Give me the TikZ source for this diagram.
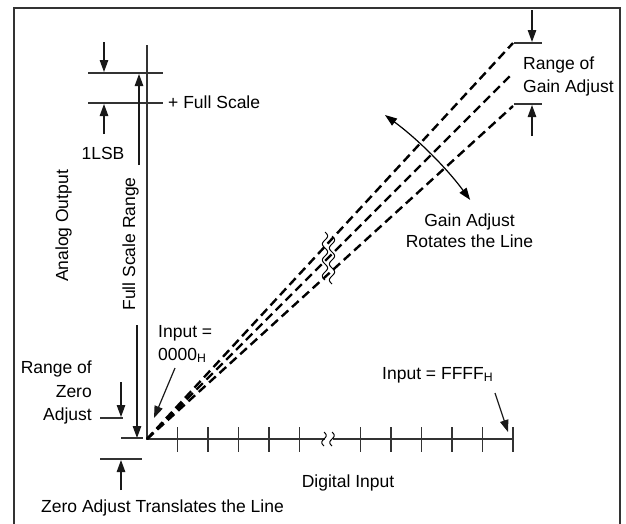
\documentclass[tikz,border=0pt]{standalone}
\usepackage{fontspec}
\setmainfont{Liberation Sans}
\usetikzlibrary{arrows.meta}

\begin{document}
\begin{tikzpicture}[x=1pt,y=1pt,
	lbl/.style={font=\fontsize{17.5}{23}\selectfont, inner sep=0pt},
	thin/.style={line width=1.2pt, black!80},
	arr/.style={line width=1.2pt, black!90, -{Triangle[length=12pt,width=8.5pt]}},
	gainline/.style={line width=2.4pt, dash pattern=on 9pt off 5pt}]
	\useasboundingbox (0,0) rectangle (626,-523);
	\draw [line width=2.5pt, black!80] (14,-8) rectangle (620,-560);
	
	% axes
	\coordinate (O) at (147,-439); \coordinate (ytop) at (147,-45);
	\coordinate (xbrk) at (325,-439); \coordinate (xres) at (333,-439);
	\coordinate (xend) at (513,-439);
	\draw [thin] (ytop) -- (O) -- (xbrk); \draw [thin] (xres) -- (xend);
	\foreach \k in {1,2,3,4,5,7,8,9,10,11,12}
		\draw [thin] (147+30.5*\k,-427) -- (147+30.5*\k,-452);
	\draw [line width=1pt] plot[domain=0:14, samples=30, smooth] ({324+2.2*sin(\x*25.7)},{-432-\x});
	\draw [line width=1pt] plot[domain=0:14, samples=30, smooth] ({332+2.2*sin(\x*25.7)},{-432-\x});
	\node [lbl, anchor=base] (din) at (348,-487) {Digital Input};
	\node [lbl, rotate=90, anchor=base] (aout) at (68,-226) {Analog Output};
	
	% full scale and 1LSB
	\coordinate (fs1) at (88,-73); \coordinate (fs2) at (163,-73);
	\coordinate (fs3) at (88,-103); \coordinate (fs4) at (163,-103);
	\draw [thin] (fs1) -- (fs2); \draw [thin] (fs3) -- (fs4);
	\draw [arr] (104,-42) -- (104,-72);
	\draw [arr] (104,-134) -- (104,-104);
	\node [lbl, anchor=base west] (fsl) at (168,-108) {+ Full Scale};
	\node [lbl, anchor=base] (lsb) at (103,-159) {1LSB};
	\draw [arr] (139,-165) -- (139,-74);
	\draw [arr] (137,-325) -- (137,-438);
	\node [lbl, rotate=90, anchor=base] (fsr) at (135,-244) {Full Scale Range};
	
	% gain lines
	\coordinate (g1) at (513,-43); \coordinate (g2) at (513,-73); \coordinate (g3) at (513,-106);
	\foreach \g in {g1,g2,g3} \draw [gainline] (O) -- (\g);
	\draw [line width=1pt] plot[domain=0:48, samples=60, smooth] ({325+2.6*sin(\x*22.5)},{-232-\x});
	\draw [line width=1pt] plot[domain=0:48, samples=60, smooth] ({332+2.6*sin(\x*22.5)},{-236-\x});
	\draw [thin] (514,-43) -- (542,-43); \draw [thin] (514,-104) -- (542,-104);
	\draw [arr] (532,-10) -- (532,-42);
	\draw [arr] (532,-136) -- (532,-105);
	\node [lbl, anchor=base west] (rg1) at (523,-69) {Range of};
	\node [lbl, anchor=base west] (rg2) at (523,-92) {Gain Adjust};
	\draw [line width=1.2pt, {Triangle[length=12pt,width=8.5pt]}-{Triangle[length=12pt,width=8.5pt]}]
		(O) ++(53.7:402) arc[start angle=53.7, end angle=36.5, radius=402];
	\node [lbl, anchor=base] (ga1) at (469.5,-226) {Gain Adjust};
	\node [lbl, anchor=base] (ga2) at (469.5,-247) {Rotates the Line};
	
	% inputs
	\node [lbl, anchor=base west] (in1) at (158,-337) {Input =};
	\node [lbl, anchor=base west] (in2) at (158,-360) {0000\textsubscript{H}};
	\draw [arr] (175,-368) -- (154,-418);
	\node [lbl, anchor=base west] (inf) at (382,-379) {Input = FFFF\textsubscript{H}};
	\draw [arr] (495,-393) -- (508,-432);
	
	% zero adjust
	\node [lbl, anchor=base east] (rz1) at (92,-373) {Range of};
	\node [lbl, anchor=base east] (rz2) at (92,-397) {Zero};
	\node [lbl, anchor=base east] (rz3) at (92,-420) {Adjust};
	\draw [thin] (100,-418) -- (123,-418);
	\draw [arr] (121,-382) -- (121,-417);
	\draw [thin] (121,-438) -- (143,-438);
	\draw [thin] (100,-459) -- (142,-459);
	\draw [arr] (121,-490) -- (121,-460);
	\node [lbl, anchor=base] (zat) at (162.5,-512) {Zero Adjust Translates the Line};
\end{tikzpicture}
\end{document}
